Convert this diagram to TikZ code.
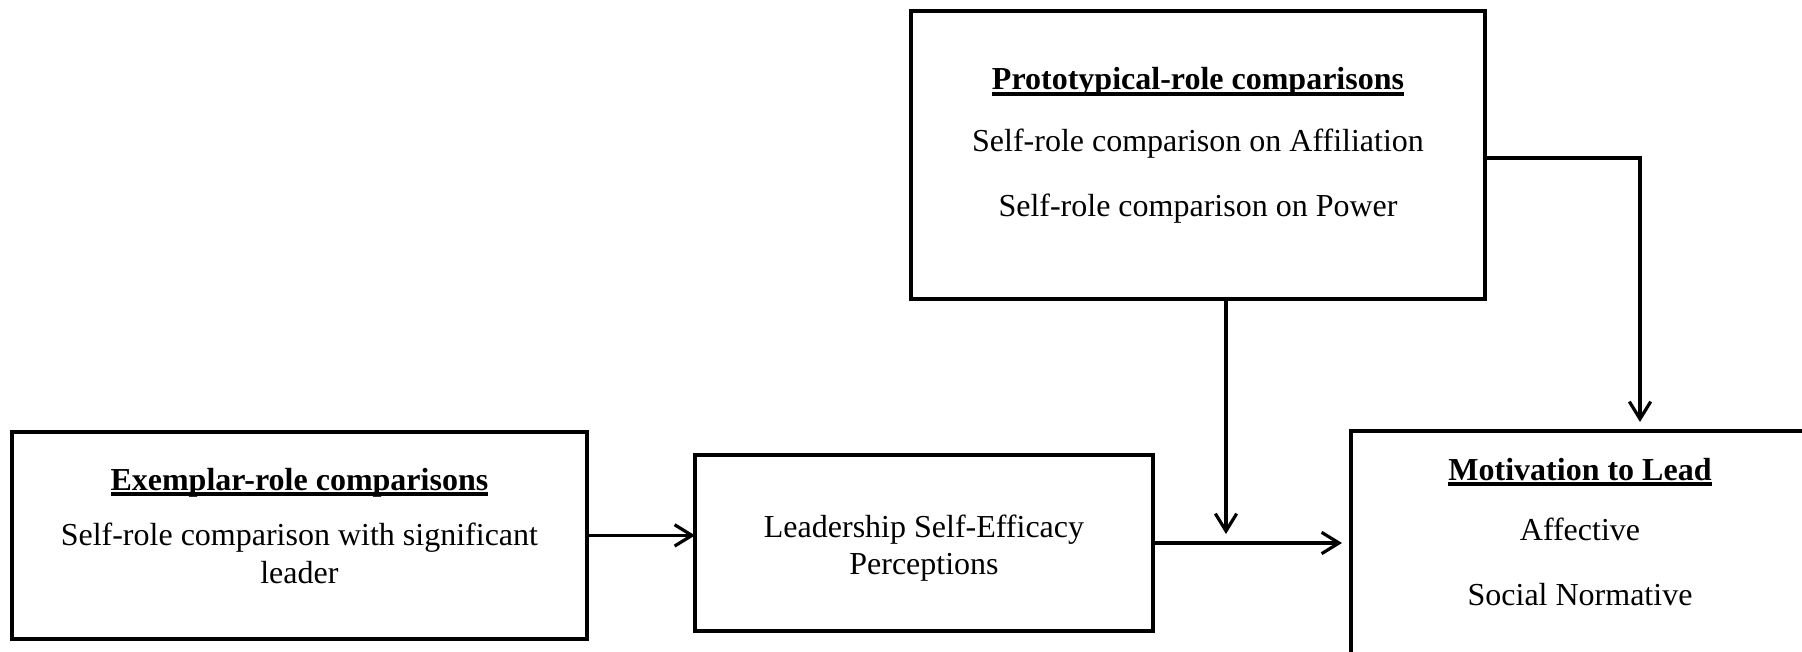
\documentclass[tikz,border=0pt]{standalone}
\usepackage{fontspec}
\setmainfont[Ligatures=NoCommon]{Liberation Serif}
\usetikzlibrary{arrows.meta}
\newcommand{\ulhead}[1]{\setbox0=\hbox{\bfseries #1}\rlap{\vrule height -1.6pt depth 4.2pt width \wd0}\box0}
\begin{document}
\begin{tikzpicture}[x=0.75pt,y=-0.75pt,
  box/.style={draw,line width=2.8pt,outer sep=0pt,inner sep=0pt},
  txt/.style={anchor=base,inner sep=0pt,font=\fontsize{24pt}{28.5pt}\selectfont},
  conn/.style={line width=2.4pt,-{Straight Barb[length=13pt,width=16pt]}}]
\useasboundingbox (0,0) rectangle (1802,652);
\clip (0,0) rectangle (1802,652);
% boxes
\node[box,minimum width=431.5pt,minimum height=155.5pt] (ex) at (299.4,535.4) {};
\node[box,minimum width=343.5pt,minimum height=132pt] (lse) at (924,543) {};
\node[box,minimum width=430.7pt,minimum height=216pt] (proto) at (1198,155) {};
\node[box,minimum width=343.5pt,minimum height=175pt] (mtl) at (1580,548) {};
% texts
\node[txt] (exh) at (299.4,490) {\ulhead{Exemplar-role comparisons}};
\node[txt] (ex1) at (299.4,545) {Self-role comparison with significant};
\node[txt] (ex2) at (299.4,583) {leader};
\node[txt] (lse1) at (924,537) {Leadership Self-Efficacy};
\node[txt] (lse2) at (924,574) {Perceptions};
\node[txt] (proh) at (1198,90) {\ulhead{Prototypical-role comparisons}};
\node[txt] (pro1) at (1198,152) {Self-role comparison on Affiliation};
\node[txt] (pro2) at (1198,217) {Self-role comparison on Power};
\node[txt] (mtlh) at (1580,480) {\ulhead{Motivation to Lead}};
\node[txt] (mtl1) at (1580,540) {Affective};
\node[txt] (mtl2) at (1580,605) {Social Normative};
% connectors
\draw[conn] (ex.east) -- (ex.east -| lse.west);
\draw[conn,shorten >=6.75pt] (lse.east) -- (lse.east -| mtl.west);
\coordinate (j) at (1226,534);
\draw[conn] (proto.south -| j) -- (j);
\coordinate (c1) at (1640,158);
\draw[conn,shorten >=7pt] (proto.east |- c1) -- (c1) -- (c1 |- mtl.north);
\end{tikzpicture}
\end{document}
